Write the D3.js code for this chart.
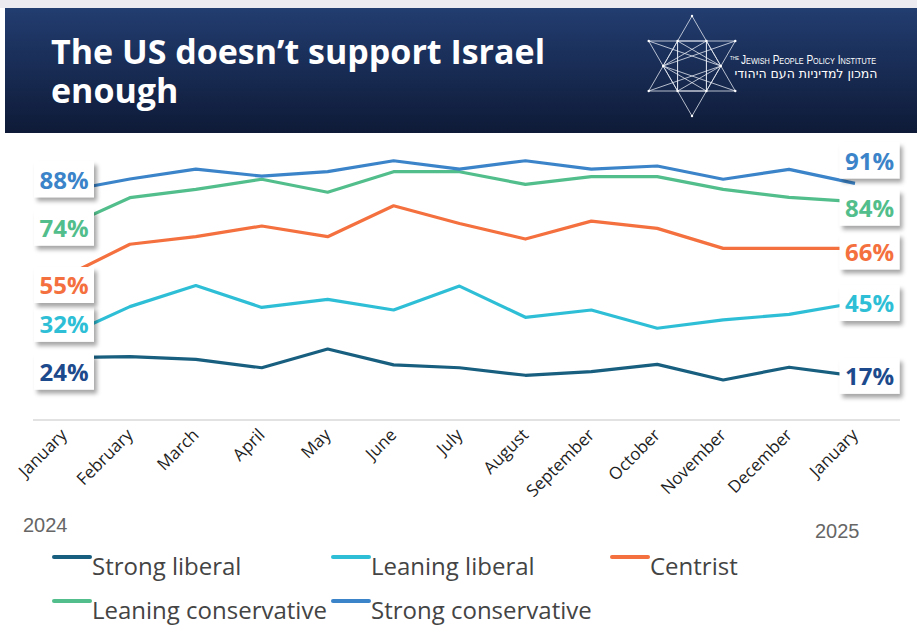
<!DOCTYPE html>
<html>
<head>
<meta charset="utf-8">
<script src="https://cdn.jsdelivr.net/npm/d3@7/dist/d3.min.js"></script>
<style>
  html, body { margin: 0; padding: 0; background: #ffffff; }
  svg { display: block; }
</style>
</head>
<body>
<script>
// ---- data ----
const months = ["January", "February", "March", "April", "May", "June", "July",
  "August", "September", "October", "November", "December", "January"];
const yearLabels = ["2024", "2025"];
const seriesNames = ["Strong liberal", "Leaning liberal", "Centrist",
  "Leaning conservative", "Strong conservative"];

const strongLiberal       = [24, 24.4, 23.3, 20.1, 27.3, 21.2, 20.1, 17.2, 18.6, 21.4, 15.4, 20.3, 17];
const leaningLiberal      = [32, 43.6, 51.7, 43.3, 46.4, 42.3, 51.5, 39.5, 42.3, 35.3, 38.5, 40.6, 45];
const centrist            = [55, 67.6, 70.5, 74.6, 70.5, 82.4, 75.6, 69.6, 76.5, 73.7, 66, 66, 66];
const leaningConservative = [74, 85.5, 88.7, 92.6, 87.6, 95.5, 95.5, 90.6, 93.6, 93.6, 88.7, 85.6, 84];
const strongConservative  = [88, 92.7, 96.5, 93.8, 95.5, 99.7, 96.5, 99.7, 96.5, 97.7, 92.6, 96.4, 91];

const titleLines = ["The US doesn\u2019t support Israel", "enough"];

// ---- styling ----
const lineColors  = ["#175e7f", "#2ebfd6", "#f4703e", "#52be8b", "#3b84c9"];
const labelColors = ["#1c4a8c", "#2ebfd6", "#f4703e", "#52be8b", "#3b84c9"];
const seriesValues = [strongLiberal, leaningLiberal, centrist, leaningConservative, strongConservative];

const W = 917, H = 630;
const svg = d3.select("body").append("svg").attr("width", W).attr("height", H);
const defs = svg.append("defs");

const grad = defs.append("linearGradient").attr("id", "hdr").attr("x1", 0).attr("y1", 0).attr("x2", 0).attr("y2", 1);
grad.append("stop").attr("offset", "0%").attr("stop-color", "#223d70");
grad.append("stop").attr("offset", "100%").attr("stop-color", "#0e1a37");

const shadow = defs.append("filter").attr("id", "shadow")
  .attr("x", "-20%").attr("y", "-20%").attr("width", "150%").attr("height", "160%");
shadow.append("feDropShadow").attr("dx", 3).attr("dy", 4).attr("stdDeviation", 2)
  .attr("flood-color", "#000").attr("flood-opacity", 0.35);

// ---- header band ----
svg.append("rect").attr("x", 0).attr("y", 0).attr("width", W).attr("height", 8).attr("fill", "#ebebf0");
svg.append("rect").attr("x", 5).attr("y", 8).attr("width", W - 5).attr("height", 125).attr("fill", "url(#hdr)");

const title = svg.append("g")
  .attr("font-family", "'Open Sans', sans-serif").attr("font-weight", 700)
  .attr("font-size", 34).attr("fill", "#ffffff");
titleLines.forEach((t, i) => {
  title.append("text").attr("x", 51).attr("y", 64 + i * 39).text(t);
});

// logo: interlaced star
const logo = svg.append("g").attr("stroke", "#e8ecf5").attr("stroke-width", 0.9)
  .attr("fill", "none").attr("stroke-opacity", 0.85);
const cx = 692, cy = 66, R = 50;
const pt = a => [cx + R * Math.cos(a * Math.PI / 180), cy + R * Math.sin(a * Math.PI / 180)];
const up = [pt(-90), pt(30), pt(150)];
const down = [pt(90), pt(-30), pt(-150)];
const r = R / Math.sqrt(3);
const hex = d3.range(6).map(i => [cx + r * Math.cos(i * Math.PI / 3), cy + r * Math.sin(i * Math.PI / 3)]);
const poly = pts => "M" + pts.map(p => p.join(",")).join("L") + "Z";
logo.append("path").attr("d", poly(up));
logo.append("path").attr("d", poly(down));
logo.append("path").attr("d", poly(hex));
logo.append("path").attr("d", poly([hex[0], hex[2], hex[4]]));
logo.append("path").attr("d", poly([hex[1], hex[3], hex[5]]));
logo.append("line").attr("x1", hex[4][0]).attr("y1", hex[4][1]).attr("x2", hex[2][0]).attr("y2", hex[2][1]);
logo.append("line").attr("x1", hex[5][0]).attr("y1", hex[5][1]).attr("x2", hex[1][0]).attr("y2", hex[1][1]);
[[down[2], hex[0]], [up[2], hex[0]], [down[1], hex[3]], [up[1], hex[3]]].forEach(([a, b]) => {
  logo.append("line").attr("x1", a[0]).attr("y1", a[1]).attr("x2", b[0]).attr("y2", b[1]);
});
svg.append("g").selectAll("circle").data(hex.concat(up, down)).join("circle")
  .attr("cx", d => d[0]).attr("cy", d => d[1]).attr("r", 1.2).attr("fill", "#ffffff");

svg.append("text").attr("x", 730).attr("y", 60)
  .attr("font-family", "'Liberation Sans Narrow', sans-serif").attr("font-size", 4.5)
  .attr("fill", "#ffffff").text("THE");
svg.append("text").attr("x", 741).attr("y", 64)
  .attr("font-family", "'Liberation Sans Narrow', sans-serif").attr("font-size", 12.5)
  .attr("font-variant", "small-caps").attr("fill", "#ffffff")
  .attr("textLength", 135).attr("lengthAdjust", "spacingAndGlyphs")
  .text("Jewish People Policy Institute");
svg.append("text").attr("x", 806).attr("y", 78)
  .attr("font-family", "'Liberation Sans Narrow', 'DejaVu Sans', sans-serif").attr("font-size", 12.5)
  .attr("text-anchor", "middle").attr("fill", "#ffffff")
  .text("המכון למדיניות העם היהודי");

// ---- chart ----
const x = d3.scalePoint().domain(d3.range(months.length)).range([64, 855]);
const y = d3.scaleLinear().domain([0, 100]).range([420, 160]);

svg.append("line").attr("x1", 33).attr("x2", 900).attr("y1", y(0)).attr("y2", y(0))
  .attr("stroke", "#e2e2e2").attr("stroke-width", 2);

svg.append("g").selectAll("text").data(months).join("text")
  .attr("transform", (d, i) => `translate(${x(i) + 4},${y(0) + 16}) rotate(-45)`)
  .attr("text-anchor", "end")
  .attr("font-family", "'Open Sans', sans-serif").attr("font-size", 17)
  .attr("fill", "#1e1e1e").text(d => d);

svg.append("text").attr("x", 23).attr("y", 532)
  .attr("font-family", "'Liberation Sans Narrow', sans-serif").attr("font-size", 20)
  .attr("fill", "#666").text(yearLabels[0]);
svg.append("text").attr("x", 815).attr("y", 538)
  .attr("font-family", "'Liberation Sans Narrow', sans-serif").attr("font-size", 20)
  .attr("fill", "#666").text(yearLabels[1]);

const line = d3.line().x((d, i) => x(i)).y(d => y(d));
svg.append("g").selectAll("path").data(seriesValues).join("path")
  .attr("d", d => line(d)).attr("fill", "none")
  .attr("stroke", (d, i) => lineColors[i]).attr("stroke-width", 3.2)
  .attr("stroke-linejoin", "round");

// end labels (vertical nudges keep boxes apart)
const leftNudge  = [14, -13, 8, 0, -12];
const rightNudge = [0, 0, 3, 6, -23];
const fmt = v => d3.format(".0f")(v) + "%";
const last = months.length - 1;

function endLabel(cxPos, cyPos, text, color) {
  const g = svg.append("g");
  g.append("rect").attr("x", cxPos - 30).attr("y", cyPos - 18).attr("width", 60).attr("height", 36)
    .attr("fill", "#ffffff").attr("filter", "url(#shadow)");
  g.append("text").attr("x", cxPos).attr("y", cyPos + 1).attr("dy", "0.35em")
    .attr("text-anchor", "middle").attr("font-family", "'Open Sans', sans-serif")
    .attr("font-weight", 700).attr("font-size", 24).attr("fill", color).text(text);
}
seriesValues.forEach((vals, i) => {
  endLabel(x(0), y(vals[0]) + leftNudge[i], fmt(vals[0]), labelColors[i]);
  endLabel(x(last) + 14.5, y(vals[last]) + rightNudge[i], fmt(vals[last]), labelColors[i]);
});

// ---- legend ----
const legendPos = [[54, 557], [333, 557], [612, 557], [54, 601], [333, 601]];
const lg = svg.append("g").selectAll("g").data(seriesNames).join("g")
  .attr("transform", (d, i) => `translate(${legendPos[i][0]},${legendPos[i][1]})`);
lg.append("line").attr("x1", 0).attr("x2", 36).attr("y1", 0).attr("y2", 0)
  .attr("stroke", (d, i) => lineColors[i]).attr("stroke-width", 4).attr("stroke-linecap", "round");
lg.append("text").attr("x", 38).attr("y", 18)
  .attr("font-family", "'Open Sans', sans-serif").attr("font-size", 24)
  .attr("fill", "#444").text(d => d);
</script>
</body>
</html>
